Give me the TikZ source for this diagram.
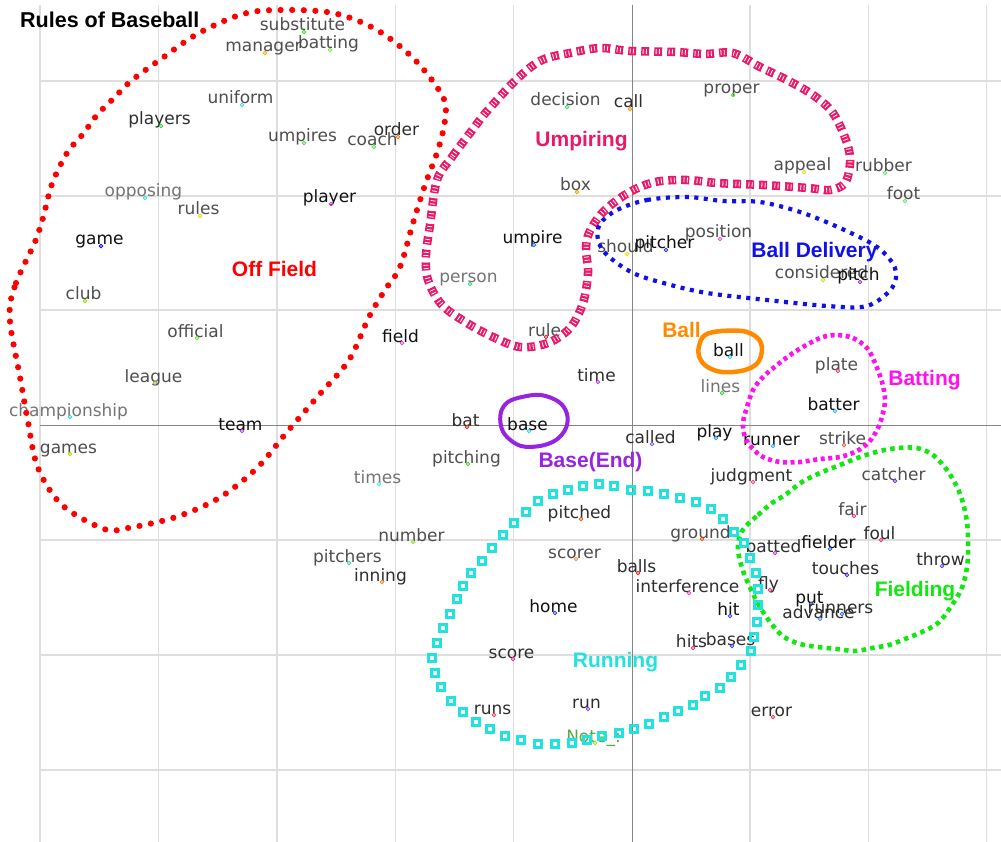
\documentclass[tikz,border=0pt]{standalone}
\usepackage{fontspec}
\newfontfamily\wfont{DejaVu Sans}
\newfontfamily\gfont{Liberation Sans}
\definecolor{k1}{HTML}{111111}
\definecolor{k2}{HTML}{2E2E2E}
\definecolor{k3}{HTML}{4E4E4E}
\definecolor{k4}{HTML}{747474}
\definecolor{cRed}{HTML}{FF0000}
\definecolor{cPink}{HTML}{E8196B}
\definecolor{cBlue}{HTML}{1010E8}
\definecolor{cOrange}{HTML}{FF8A00}
\definecolor{cMag}{HTML}{FF10EE}
\definecolor{cPurple}{HTML}{9624E0}
\definecolor{cCyan}{HTML}{22E2DE}
\definecolor{cGreen}{HTML}{10E810}
\definecolor{cNote}{HTML}{55AA44}
\tikzset{
  wordlabel/.style={anchor=base, inner sep=0pt, font=\wfont\fontsize{17}{19}\selectfont},
  wdot/.style={circle, inner sep=0pt, minimum size=3.4pt, line width=0.8pt},
  grp/.style={anchor=base, inner sep=0pt, font=\gfont\bfseries\fontsize{21}{24}\selectfont},
  lightgrid/.style={draw=black!13, line width=1.3pt},
  axisgrid/.style={draw=black!48, line width=1pt},
  offloop/.style={draw=cRed, line width=6.2pt, line cap=round, dash pattern=on 0pt off 11.6pt},
  umploop/.style={draw=cPink, line width=8.5pt, dash pattern=on 8pt off 5pt},
  umphatch/.style={draw=white, line width=5pt, dash pattern=on 0.8pt off 2.45pt, dash phase=-1.5pt},
  delloop/.style={draw=cBlue, line width=4.2pt, dash pattern=on 4pt off 5.5pt},
  ballloop/.style={draw=cOrange, line width=4.5pt},
  baseloop/.style={draw=cPurple, line width=4pt},
  batloop/.style={draw=cMag, line width=4.6pt, dash pattern=on 4pt off 3.6pt},
  fldloop/.style={draw=cGreen, line width=4.6pt, dash pattern=on 4.5pt off 4.3pt},
  runsq/.style={draw=cCyan, line width=3.2pt},
}
\newcommand{\wordpt}[6]{%
  \definecolor{dc#1}{HTML}{#5}%
  \node[wordlabel, text=#4] (#1) at (#2-1.5,#3-1) {#6};
  \node[wdot, draw=dc#1] (#1-d) at (#2,#3) {};
}
\begin{document}
\begin{tikzpicture}[x=1pt,y=-1pt]
\useasboundingbox (0,0) rectangle (1001,842);
\fill[white] (0,0) rectangle (1001,842);
% grid
\foreach \gx in {40,158.5,277,395.5,513.5,750,868.5,986.5}
  \draw[lightgrid] (\gx,5) -- (\gx,842);
\foreach \gy in {81,196,310,540,655,770}
  \draw[lightgrid] (40,\gy) -- (1001,\gy);
\draw[axisgrid] (632,5) -- (632,842);
\draw[axisgrid] (40,425) -- (1001,425);

% title
\node[anchor=base west, inner sep=0pt, text=black, font=\gfont\bfseries\fontsize{21.5}{24}\selectfont] (title) at (20,28) {Rules of Baseball};

% words
\wordpt{substitute}{304}{32}{k3}{33DD33}{substitute}
\wordpt{manager}{265}{53}{k3}{FFAA00}{manager}
\wordpt{batting}{330}{50}{k3}{88EE44}{batting}
\wordpt{uniform}{242}{105}{k3}{44DDDD}{uniform}
\wordpt{players}{161}{126}{k2}{44CC44}{players}
\wordpt{umpires}{304}{143}{k3}{44DD66}{umpires}
\wordpt{order}{398}{137}{k2}{FF7700}{order}
\wordpt{coach}{374}{147}{k3}{44EE66}{coach}
\wordpt{opposing}{145}{198}{k4}{44DDDD}{opposing}
\wordpt{rules}{200}{216}{k3}{DDDD00}{rules}
\wordpt{player}{331}{204}{k1}{DD33DD}{player}
\wordpt{game}{101}{246}{k1}{0000FF}{game}
\wordpt{club}{85}{301}{k3}{99DD00}{club}
\wordpt{official}{197}{338}{k3}{77DD22}{official}
\wordpt{league}{155}{383}{k3}{AAAA44}{league}
\wordpt{championship}{70}{417}{k4}{22DDDD}{championship}
\wordpt{team}{242}{431}{k1}{AA44DD}{team}
\wordpt{games}{70}{454}{k3}{AADD00}{games}
\wordpt{field}{402}{343}{k1}{DD44DD}{field}
\wordpt{times}{379}{484}{k4}{44EEDD}{times}
\wordpt{number}{413}{542}{k3}{99DD22}{number}
\wordpt{person}{470}{284}{k4}{33DD77}{person}
\wordpt{decision}{567}{107}{k3}{33DD66}{decision}
\wordpt{call}{630}{109}{k2}{EE9900}{call}
\wordpt{proper}{733}{95}{k3}{55DD33}{proper}
\wordpt{appeal}{804}{172}{k3}{DDDD22}{appeal}
\wordpt{rubber}{885}{173}{k3}{55EE77}{rubber}
\wordpt{foot}{905}{201}{k3}{55EE77}{foot}
\wordpt{box}{577}{192}{k3}{DDAA00}{box}
\wordpt{umpire}{534}{245}{k1}{2277EE}{umpire}
\wordpt{should}{627}{254}{k3}{EEDD00}{should}
\wordpt{pitcher}{666}{250}{k1}{2233DD}{pitcher}
\wordpt{position}{720}{239}{k3}{EE44EE}{position}
\wordpt{considered}{823}{280}{k3}{CCDD22}{considered}
\wordpt{pitch}{860}{282}{k1}{9933CC}{pitch}
\wordpt{rule}{546}{337}{k3}{DD2222}{rule}
\wordpt{ball}{730}{357}{k1}{33CCEE}{ball}
\wordpt{time}{598}{382}{k2}{BB44EE}{time}
\wordpt{lines}{722}{393}{k4}{33DD33}{lines}
\wordpt{plate}{838}{371}{k3}{EE4488}{plate}
\wordpt{batter}{835}{411}{k1}{33BBEE}{batter}
\wordpt{play}{716}{438}{k1}{3399EE}{play}
\wordpt{runner}{773}{446}{k1}{33AAEE}{runner}
\wordpt{strike}{844}{445}{k3}{FF5533}{strike}
\wordpt{called}{652}{444}{k2}{8855EE}{called}
\wordpt{judgment}{753}{482}{k2}{EE4477}{judgment}
\wordpt{catcher}{895}{481}{k3}{7733DD}{catcher}
\wordpt{fair}{854}{516}{k3}{EE3388}{fair}
\wordpt{bat}{467}{427}{k2}{EE2222}{bat}
\wordpt{base}{529}{431}{k1}{33CCEE}{base}
\wordpt{pitching}{468}{464}{k3}{44DD22}{pitching}
\wordpt{pitched}{581}{519}{k2}{EE5511}{pitched}
\wordpt{pitchers}{349}{563}{k3}{33DDAA}{pitchers}
\wordpt{inning}{382}{582}{k2}{EE8822}{inning}
\wordpt{scorer}{576}{559}{k3}{EE9933}{scorer}
\wordpt{balls}{638}{573}{k2}{EE2222}{balls}
\wordpt{interference}{689}{593}{k2}{EE44CC}{interference}
\wordpt{ground}{702}{539}{k3}{EE5522}{ground}
\wordpt{home}{555}{613}{k1}{3344EE}{home}
\wordpt{hit}{730}{616}{k1}{3344EE}{hit}
\wordpt{hits}{693}{648}{k2}{EE3366}{hits}
\wordpt{bases}{732}{646}{k2}{3344EE}{bases}
\wordpt{score}{513}{659}{k2}{EE3399}{score}
\wordpt{runs}{494}{715}{k2}{EE4455}{runs}
\wordpt{run}{588}{709}{k2}{8844EE}{run}
\wordpt{note}{595}{743}{cNote}{AADD22}{Note\_:}
\wordpt{error}{773}{717}{k2}{EE3355}{error}
\wordpt{fly}{770}{590}{k2}{EE3366}{fly}
\wordpt{batted}{775}{553}{k2}{CC33DD}{batted}
\wordpt{fielder}{830}{549}{k1}{2266EE}{fielder}
\wordpt{foul}{881}{540}{k2}{EE3377}{foul}
\wordpt{touches}{847}{575}{k2}{6622DD}{touches}
\wordpt{throw}{942}{566}{k2}{6633EE}{throw}
\wordpt{put}{811}{604}{k1}{3355EE}{put}
\wordpt{runners}{842}{614}{k2}{3366EE}{runners}
\wordpt{advance}{820}{619}{k2}{5588EE}{advance}

% Off Field loop
\draw[offloop] plot[smooth cycle, tension=0.55] coordinates {
 (10,305) (16,283) (24,265) (35,242) (43,218) (52,184) (67,153) (83,134) (97,115)
 (114,98) (131,81) (161,59) (199,33) (243,14) (280,10) (333,13) (377,30) (415,60)
 (443,97) (445,120) (438,150) (425,185) (413,223) (400,267) (385,290) (369,317)
 (349,360) (319,395) (287,432) (257,468) (219,498) (176,517) (128,528) (104,529)
 (62,505) (38,468) (28,422) (20,377) (11,330)};

% Umpiring loop
\def\umppath{plot[smooth cycle, tension=0.55] coordinates {
 (437,180) (452,157) (470,133) (488,110) (518,78) (542,60) (570,53) (600,48) (630,51)
 (675,52) (705,54) (733,53) (760,67) (787,80) (813,95) (833,113) (847,143) (850,163)
 (845,183) (830,190) (808,188) (763,185) (717,183) (687,180) (655,182) (628,193)
 (603,212) (589,233) (586,250) (588,273) (583,303) (570,328) (548,343) (520,347)
 (493,337) (467,323) (442,305) (428,280) (426,255) (430,225)}}
\draw[umploop] \umppath;
\draw[umphatch] \umppath;

% Ball Delivery loop
\draw[delloop] plot[smooth cycle, tension=0.55] coordinates {
 (617,210) (647,200) (687,197) (723,201) (760,202) (800,212) (840,228) (877,247)
 (895,268) (892,288) (867,306) (827,306) (767,300) (707,293) (667,284) (633,273)
 (607,255) (598,240) (600,224)};

% Ball loop
\draw[ballloop] plot[smooth cycle, tension=0.6] coordinates {
 (699,346) (705,335) (722,331) (747,332) (761,343) (759,361) (745,370) (722,372)
 (706,366) (699,356)};

% Base loop
\draw[baseloop] plot[smooth cycle, tension=0.6] coordinates {
 (501,412) (508,402) (522,397) (541,395) (559,402) (567,414) (566,428) (556,440)
 (540,446) (521,446) (507,437) (501,426)};

% Batting loop
\draw[batloop] plot[smooth cycle, tension=0.55] coordinates {
 (837,335) (853,338) (867,348) (875,363) (882,382) (885,400) (882,417) (877,430)
 (869,442) (857,451) (840,457) (820,459) (800,462) (780,462) (763,457) (752,448)
 (745,437) (743,423) (747,407) (753,390) (763,377) (777,365) (793,353) (810,343)
 (823,337)};

% Fielding loop
\draw[fldloop] plot[smooth cycle, tension=0.55] coordinates {
 (747,525) (758,515) (772,503) (785,495) (802,482) (820,473) (840,465) (860,457)
 (880,451) (898,448) (917,448) (933,455) (947,470) (957,487) (963,503) (967,522)
 (968,540) (968,557) (966,573) (961,590) (950,608) (938,623) (922,632) (905,639)
 (889,645) (872,648) (855,651) (837,649) (818,647) (800,644) (784,637) (774,627)
 (765,615) (756,600) (748,583) (742,568) (738,550) (740,535)};

% Running squares
\foreach \qx/\qy in {432/658,437/643,443/628,450/614,457/599,463/586,471/573,482/561,
 492/548,503/535,514/523,526/512,538/501,553/494,568/490,583/486,599/484,614/486,
 631/490,648/491,664/494,680/498,696/502,711/509,723/519,734/532,744/543,750/558,
 756/573,758/589,758/605,757/622,754/637,751/651,741/665,731/677,720/688,705/696,
 693/705,678/711,664/717,649/724,634/729,619/733,602/736,587/740,572/743,555/744,
 538/744,521/740,505/736,490/729,476/722,463/712,451/701,441/687,435/673}
  \draw[runsq] (\qx-3.4,\qy-3.4) rectangle (\qx+3.4,\qy+3.4);

% group labels
\node[grp, text=cRed] (offfield) at (274.5,277) {Off Field};
\node[grp, text=cPink] (umpiring) at (581.5,147) {Umpiring};
\node[grp, text=cBlue] (balldelivery) at (814.5,258) {Ball Delivery};
\node[grp, text=cOrange] (balllabel) at (681.5,337) {Ball};
\node[grp, text=cMag] (batting-l) at (924.5,385) {Batting};
\node[grp, text=cPurple] (baseend) at (590.5,467) {Base(End)};
\node[grp, text=cCyan] (running) at (615.5,667) {Running};
\node[grp, text=cGreen] (fielding) at (915,596) {Fielding};
\end{tikzpicture}
\end{document}
